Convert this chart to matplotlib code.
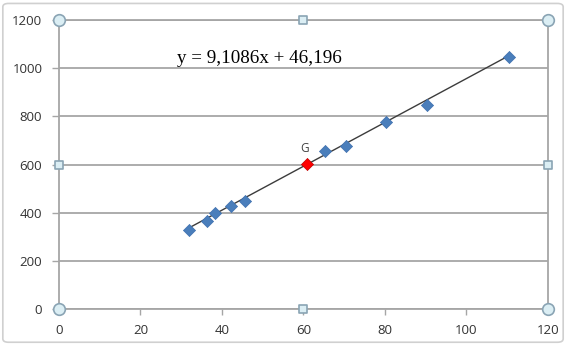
import matplotlib
matplotlib.use("Agg")
import matplotlib.pyplot as plt
from matplotlib.patches import FancyBboxPatch
import numpy as np

x_vals = [32, 36.4, 38.4, 42.2, 45.6, 65.3, 70.4, 80.2, 90.3, 110.4]
y_vals = [328, 367, 397, 429, 448, 657, 677, 778, 847, 1045]
g_x = [60.8]
g_y = [602]
slope = 9.1086
intercept = 46.196
eq_label = "y = 9,1086x + 46,196"
x_ticks = [0, 20, 40, 60, 80, 100, 120]
y_ticks = [0, 200, 400, 600, 800, 1000, 1200]

fig = plt.figure(figsize=(5.66, 3.45), dpi=100)
fig.patch.set_facecolor("white")
border = FancyBboxPatch((0.005, 0.008), 0.99, 0.982, boxstyle="round,pad=0,rounding_size=0.01",
                        transform=fig.transFigure, facecolor="none", edgecolor="#d0d0d0", lw=1.2)
fig.patches.append(border)

ax = fig.add_axes([0.1042, 0.1043, 0.8640, 0.8377])
ax.set_xlim(0, 120)
ax.set_ylim(0, 1200)
ax.set_xticks(x_ticks)
ax.set_yticks(y_ticks)
ax.grid(axis="y", color="#a6a6a6", lw=1.3)
ax.set_axisbelow(True)
for s in ax.spines.values():
    s.set_color("#a6a6a6")
    s.set_linewidth(1.3)
ax.tick_params(axis="y", colors="#a6a6a6", labelcolor="#333333", length=5, width=1,
               labelsize=9.5, pad=7)
ax.tick_params(axis="x", colors="#a6a6a6", labelcolor="#333333", length=4, width=1,
               labelsize=9.5, pad=6.5)
for lab in ax.get_xticklabels() + ax.get_yticklabels():
    lab.set_family("Open Sans")

xs = np.array([min(x_vals), max(x_vals)])
ax.plot(xs, slope * xs + intercept, color="#3c3c3c", lw=1, zorder=3)
ax.scatter(x_vals, y_vals, marker="D", s=38, color="#4a7ebb", edgecolors="#3d6fae",
           linewidths=0.5, zorder=4)
ax.scatter(g_x, g_y, marker="D", s=38, color="#ff0000", edgecolors="#c00000",
           linewidths=0.5, zorder=5)
ax.text(g_x[0] - 0.5, g_y[0] + 38, "G", ha="center", va="bottom", fontsize=8.5,
        color="#404040", family="Open Sans")
ax.text(29.0, 1021, eq_label, ha="left", va="baseline", fontsize=13.7,
        family="Liberation Serif", color="#000000")

# selection handles
hx = [0, 1, 0, 1]
hy = [0, 0, 1, 1]
ax.scatter(hx, hy, transform=ax.transAxes, marker="o", s=70, facecolor="#dbeef4",
           edgecolor="#8aa4b4", lw=1.2, zorder=10, clip_on=False)
sx = [0.5, 0.5, 0, 1]
sy = [0, 1, 0.5, 0.5]
ax.scatter(sx, sy, transform=ax.transAxes, marker="s", s=40, facecolor="#dbeef4",
           edgecolor="#8aa4b4", lw=1.2, zorder=10, clip_on=False)

fig.savefig("out.png", dpi=100)
